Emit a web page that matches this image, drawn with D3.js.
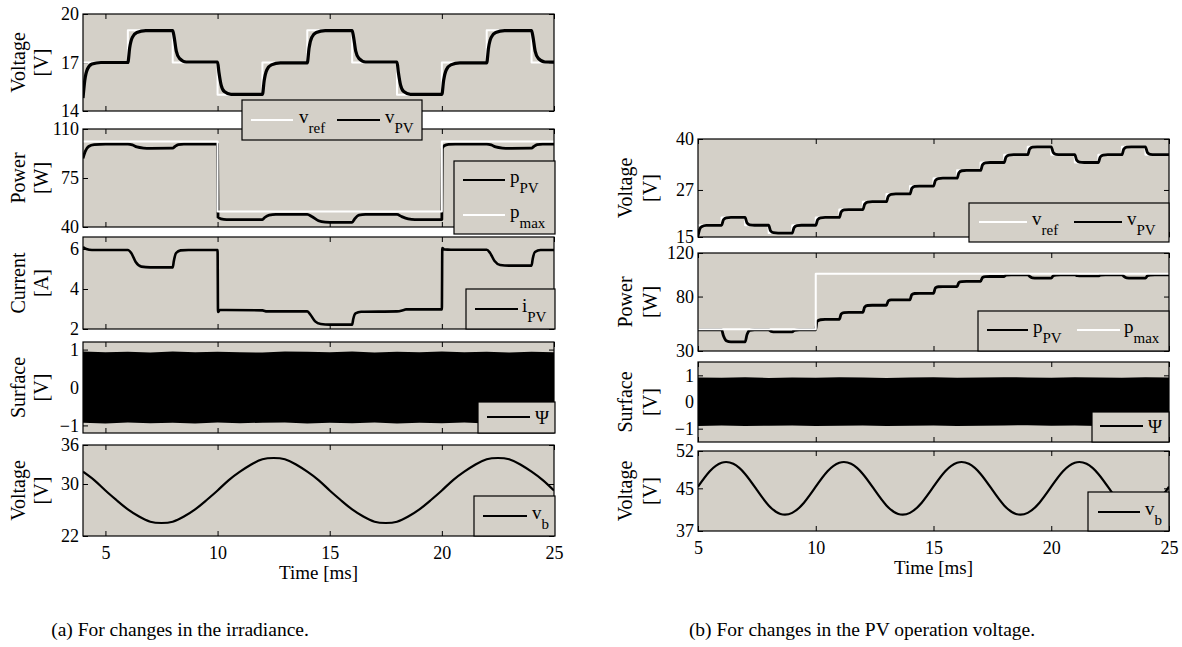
<!DOCTYPE html>
<html>
<head>
<meta charset="utf-8">
<script src="https://cdn.jsdelivr.net/npm/d3@7"></script>
<style>
  body { margin: 0; background: #fff; }
  svg text { font-family: "Liberation Serif", "Times New Roman", serif; fill: #000; }
</style>
</head>
<body>
<svg id="chart" width="1182" height="647"></svg>
<script>
// ---- data: (a) changes in the irradiance, time 4..25 ms ----
const timeTicks = [5, 10, 15, 20, 25];

const aVoltTicks = [14, 17, 20];
const aPowTicks = [40, 75, 110];
const aCurTicks = [2, 4, 6];
const aSurfTicks = [-1, 0, 1];
const aVbTicks = [22, 30, 36];

// v_ref steps (time, level)
const aRefTimes = [4, 6, 8, 10, 12, 14, 16, 18, 20, 22, 24, 25];
const aRefLevels = [17, 19, 17, 15, 17, 19, 17, 15, 17, 19, 17, 17];

const aVpv = [
  [4.0, 14.8], [4.08, 15.9], [4.2, 16.6], [4.4, 16.9], [4.8, 17.0],
  [6.0, 17.0], [6.08, 17.9], [6.2, 18.55], [6.4, 18.85], [6.8, 18.97],
  [8.0, 18.97], [8.06, 18.6], [8.16, 17.7], [8.3, 17.25], [8.6, 17.03],
  [10.0, 17.03], [10.06, 16.4], [10.16, 15.6], [10.3, 15.2], [10.6, 15.03],
  [12.0, 15.03], [12.08, 15.9], [12.2, 16.55], [12.4, 16.85], [12.8, 16.98],
  [14.0, 16.98], [14.08, 17.9], [14.2, 18.55], [14.4, 18.85], [14.8, 18.97],
  [16.0, 18.97], [16.06, 18.6], [16.16, 17.7], [16.3, 17.25], [16.6, 17.03],
  [18.0, 17.03], [18.06, 16.4], [18.16, 15.6], [18.3, 15.2], [18.6, 15.03],
  [20.0, 15.03], [20.08, 15.9], [20.2, 16.55], [20.4, 16.85], [20.8, 16.98],
  [22.0, 16.98], [22.08, 17.9], [22.2, 18.55], [22.4, 18.85], [22.8, 18.97],
  [24.0, 18.97], [24.06, 18.6], [24.16, 17.7], [24.3, 17.25], [24.6, 17.03],
  [25.0, 17.02]
];

const aPmaxTimes = [4, 10, 20, 25];
const aPmaxLevels = [101, 51, 101, 101];

const aPpv = [
  [4.0, 89], [4.1, 94], [4.25, 97.5], [4.5, 98.8], [5.0, 99.2],
  [6.0, 99.2], [6.2, 98.6], [6.4, 97.2], [6.7, 96.4], [7.0, 96.2],
  [8.0, 96.3], [8.1, 97.5], [8.25, 98.8], [8.5, 99.2],
  [10.0, 99.2], [10.02, 47], [10.15, 45.8], [10.4, 45.3],
  [12.0, 45.3], [12.1, 46.8], [12.3, 48.5], [12.6, 49],
  [14.0, 49], [14.2, 47.5], [14.5, 44.5], [14.8, 43.5], [15.2, 43.3],
  [16.0, 43.3], [16.1, 45.5], [16.3, 48.5], [16.6, 49],
  [18.0, 49], [18.2, 47.5], [18.5, 45.8], [18.8, 45.3],
  [20.0, 45.3], [20.02, 96], [20.1, 98], [20.3, 99], [20.6, 99.2],
  [22.0, 99.2], [22.2, 98.6], [22.4, 97.2], [22.7, 96.4], [23.0, 96.2],
  [24.0, 96.3], [24.1, 97.5], [24.25, 98.8], [24.5, 99.2], [25.0, 99.2]
];

const aIpv = [
  [4.0, 6.1], [4.15, 6.0], [4.4, 5.95], [6.0, 5.95], [6.15, 5.8], [6.35, 5.35],
  [6.6, 5.12], [7.0, 5.08], [8.0, 5.08], [8.05, 5.4], [8.15, 5.8], [8.35, 5.93],
  [8.7, 5.95], [10.0, 5.95], [10.02, 2.85], [10.1, 2.95], [10.4, 2.95],
  [12.0, 2.93], [12.2, 2.88], [14.0, 2.88], [14.15, 2.7], [14.35, 2.38],
  [14.6, 2.25], [15.0, 2.22], [16.0, 2.22], [16.05, 2.5], [16.15, 2.78],
  [16.4, 2.86], [18.0, 2.88], [18.3, 2.95], [18.4, 2.98], [20.0, 2.98],
  [20.02, 6.05], [20.1, 5.98], [20.4, 5.96], [22.0, 5.96], [22.15, 5.8],
  [22.35, 5.4], [22.6, 5.2], [23.0, 5.17], [24.0, 5.17], [24.05, 5.5],
  [24.15, 5.85], [24.4, 5.95], [25.0, 5.95]
];

// switching surface envelope, one value per ms from 4 to 25
const aSurfHi = [0.95, 0.93, 0.94, 0.92, 0.95, 0.93, 0.94, 0.93, 0.92, 0.95, 0.94,
                 0.93, 0.95, 0.92, 0.94, 0.93, 0.95, 0.93, 0.94, 0.92, 0.94, 0.93];
const aSurfLo = [-0.93, -0.95, -0.92, -0.94, -0.93, -0.95, -0.92, -0.94, -0.93, -0.92, -0.95,
                 -0.93, -0.94, -0.92, -0.95, -0.93, -0.94, -0.92, -0.95, -0.93, -0.94, -0.92];

// battery voltage, every 0.5 ms from 4 to 25
const aVb = [31.9, 30.6, 29.0, 27.5, 26.1, 25.0, 24.2, 24.0, 24.2, 25.0, 26.1,
             27.5, 29.0, 30.6, 31.9, 33.0, 33.8, 34.0, 33.8, 33.0, 31.9, 30.6,
             29.0, 27.5, 26.1, 25.0, 24.2, 24.0, 24.2, 25.0, 26.1, 27.5, 29.0,
             30.6, 31.9, 33.0, 33.8, 34.0, 33.8, 33.0, 31.9, 30.6, 29.0];

// ---- data: (b) changes in the PV operation voltage, time 5..25 ms ----
const bVoltTicks = [15, 27, 40];
const bPowTicks = [30, 80, 120];
const bSurfTicks = [-1, 0, 1];
const bVbTicks = [37, 45, 52];

const bRefTimes = [5, 6, 7, 8, 9, 10, 11, 12, 13, 14, 15, 16, 17, 18, 19, 20, 21, 22, 23, 24, 25];
const bRefLevels = [18, 20, 18, 16, 18, 20, 22, 24, 26, 28, 30, 32, 34, 36, 38, 36, 34, 36, 38, 36, 36];

const bVpv = [
  [5.0, 15.2], [5.06, 16.8], [5.15, 17.6], [5.35, 17.95],
  [6, 18], [6.08, 19.4], [6.2, 19.9], [6.4, 20],
  [7, 20], [7.08, 18.6], [7.2, 18.1], [7.4, 18],
  [8, 18], [8.08, 16.6], [8.2, 16.1], [8.4, 16],
  [9, 16], [9.08, 17.4], [9.2, 17.9], [9.4, 18],
  [10, 18], [10.08, 19.4], [10.2, 19.9], [10.4, 20],
  [11, 20], [11.08, 21.4], [11.2, 21.9], [11.4, 22],
  [12, 22], [12.08, 23.4], [12.2, 23.9], [12.4, 24],
  [13, 24], [13.08, 25.4], [13.2, 25.9], [13.4, 26],
  [14, 26], [14.08, 27.4], [14.2, 27.9], [14.4, 28],
  [15, 28], [15.08, 29.4], [15.2, 29.9], [15.4, 30],
  [16, 30], [16.08, 31.4], [16.2, 31.9], [16.4, 32],
  [17, 32], [17.08, 33.4], [17.2, 33.9], [17.4, 34],
  [18, 34], [18.08, 35.4], [18.2, 35.9], [18.4, 36],
  [19, 36], [19.08, 37.4], [19.2, 37.9], [19.4, 38],
  [20, 38], [20.08, 36.6], [20.2, 36.1], [20.4, 36],
  [21, 36], [21.08, 34.6], [21.2, 34.1], [21.4, 34],
  [22, 34], [22.08, 35.4], [22.2, 35.9], [22.4, 36],
  [23, 36], [23.08, 37.4], [23.2, 37.9], [23.4, 38],
  [24, 38], [24.08, 36.6], [24.2, 36.1], [24.4, 36],
  [25, 36]
];

const bPmaxTimes = [5, 10, 25];
const bPmaxLevels = [50, 101, 101];

const bPpv = [
  [5, 49.5], [6, 49.5], [6.08, 44], [6.2, 39.5], [6.4, 38.3], [7, 38.3],
  [7.08, 45], [7.2, 49], [7.4, 49.5], [8, 49.5], [8.1, 48], [8.3, 47.5],
  [9, 47.5], [9.1, 49], [9.3, 49.5], [10, 49.5], [10.05, 57], [10.2, 58.7],
  [10.4, 59], [11, 59], [11.08, 64], [11.2, 65.3], [11.4, 65.5], [12, 65.5],
  [12.08, 70.5], [12.2, 71.8], [12.4, 72], [13, 72], [13.08, 76], [13.2, 76.9],
  [13.4, 77], [14, 77], [14.08, 81.8], [14.2, 82.8], [14.4, 83], [15, 83],
  [15.08, 88], [15.2, 89], [15.4, 89.2], [16, 89.2], [16.08, 93], [16.2, 93.8],
  [16.4, 94], [17, 94], [17.08, 97.5], [17.2, 98.3], [17.4, 98.4], [18, 98.4],
  [18.08, 99.6], [18.3, 100], [19, 100], [19.08, 98.5], [19.2, 97.2], [19.4, 97],
  [20, 97], [20.08, 99], [20.2, 99.8], [20.4, 100], [21, 100], [21.1, 99.2],
  [21.3, 99], [22, 99], [22.1, 99.8], [22.3, 100], [23, 100], [23.08, 98.5],
  [23.2, 97.2], [23.4, 97], [24, 97], [24.08, 99], [24.2, 99.8], [24.4, 100], [25, 100]
];

// one value per ms from 5 to 25
const bSurfHi = [0.92, 0.91, 0.93, 0.9, 0.92, 0.91, 0.93, 0.92, 0.9, 0.92, 0.93,
                 0.91, 0.92, 0.93, 0.92, 0.91, 0.93, 0.92, 0.91, 0.93, 0.92];
const bSurfLo = [-0.9, -0.88, -0.9, -0.89, -0.88, -0.9, -0.89, -0.88, -0.9, -0.89, -0.88,
                 -0.9, -0.89, -0.88, -0.87, -0.89, -0.88, -0.9, -0.89, -0.88, -0.89];

// every 0.5 ms from 5 to 25
const bVb = [45.3, 48.2, 49.8, 49.6, 47.7, 44.7, 41.8, 40.2, 40.4, 42.3,
             45.3, 48.2, 49.8, 49.6, 47.7, 44.7, 41.8, 40.2, 40.4, 42.3,
             45.3, 48.2, 49.8, 49.6, 47.7, 44.7, 41.8, 40.2, 40.4, 42.3,
             45.3, 48.2, 49.8, 49.6, 47.7, 44.7, 41.8, 40.2, 40.4, 42.3, 45.3];

// ---- drawing ----
const BG = "#d4d0c8";
const FONT = '"Liberation Serif", "Times New Roman", serif';
const svg = d3.select("#chart");
const fmt = d => d < 0 ? "\u2212" + Math.abs(d) : String(d);
let clipId = 0;

function stepData(times, levels) {
  return times.map((t, i) => [t, levels[i]]);
}
function gridData(t0, dt, values) {
  return values.map((v, i) => [t0 + i * dt, v]);
}

function panel(x, p) {
  const y = d3.scaleLinear().domain(p.domain).range([p.bottom, p.top]);
  const [x0, x1] = x.range();
  const g = svg.append("g");
  g.append("rect")
    .attr("x", x0).attr("y", p.top)
    .attr("width", x1 - x0).attr("height", p.bottom - p.top)
    .attr("fill", BG);

  // inward ticks on all four sides
  const left = g.append("g").attr("transform", "translate(" + x0 + ",0)")
    .call(d3.axisLeft(y).tickValues(p.ticks).tickSize(-5).tickPadding(4).tickFormat(fmt));
  const right = g.append("g").attr("transform", "translate(" + x1 + ",0)")
    .call(d3.axisRight(y).tickValues(p.ticks).tickSize(-5).tickFormat(""));
  const top = g.append("g").attr("transform", "translate(0," + p.top + ")")
    .call(d3.axisTop(x).tickValues(timeTicks).tickSize(-5).tickFormat(""));
  const bottom = g.append("g").attr("transform", "translate(0," + p.bottom + ")")
    .call(d3.axisBottom(x).tickValues(timeTicks).tickSize(-5).tickPadding(10)
      .tickFormat(p.xLabels ? d => d : ""));
  [left, right, top, bottom].forEach(a => {
    a.attr("font-family", FONT).attr("font-size", 18);
    a.select(".domain").remove();
    a.selectAll("line").attr("stroke", "#000");
  });

  // clip for data
  const id = "clip" + (clipId++);
  g.append("clipPath").attr("id", id).append("rect")
    .attr("x", x0).attr("y", p.top).attr("width", x1 - x0).attr("height", p.bottom - p.top);
  const data = g.append("g").attr("clip-path", "url(#" + id + ")");

  p.series.forEach(s => {
    if (s.area) {
      data.append("path")
        .datum(s.area)
        .attr("fill", "#000")
        .attr("d", d3.area().x(d => x(d[0])).y0(d => y(d[1])).y1(d => y(d[2])));
    } else {
      data.append("path")
        .datum(s.data)
        .attr("fill", "none")
        .attr("stroke", s.color)
        .attr("stroke-width", s.width)
        .attr("stroke-linejoin", "round")
        .attr("d", d3.line().x(d => x(d[0])).y(d => y(d[1])).curve(s.curve || d3.curveLinear));
    }
  });

  g.append("rect")
    .attr("x", x0).attr("y", p.top)
    .attr("width", x1 - x0).attr("height", p.bottom - p.top)
    .attr("fill", "none").attr("stroke", "#000").attr("stroke-width", 1.2);

  // two-line y label
  const cy = (p.top + p.bottom) / 2;
  p.label.forEach((txt, i) => {
    g.append("text")
      .attr("transform", "translate(" + p.labelX[i] + "," + cy + ") rotate(-90)")
      .attr("text-anchor", "middle")
      .style("font-size", "20px")
      .text(txt);
  });
  return y;
}

function legend(box, entries) {
  const g = svg.append("g");
  g.append("rect")
    .attr("x", box[0]).attr("y", box[1])
    .attr("width", box[2] - box[0]).attr("height", box[3] - box[1])
    .attr("fill", BG).attr("stroke", "#000").attr("stroke-width", 1.2);
  entries.forEach(e => {
    g.append("line")
      .attr("x1", e.x1).attr("x2", e.x2).attr("y1", e.y).attr("y2", e.y)
      .attr("stroke", e.color).attr("stroke-width", 2);
    const t = g.append("text")
      .attr("x", e.tx).attr("y", e.y + (e.sub ? 3 : 7))
      .style("font-size", "19px")
      .text(e.main);
    if (e.sub) {
      t.append("tspan").attr("dy", 9.5).style("font-size", "15px").text(e.sub);
    }
  });
}

// ---- (a) ----
const xA = d3.scaleLinear().domain([4, 25]).range([83, 554]);
const labA = [25, 48];

panel(xA, { top: 14, bottom: 111, domain: [14, 20], ticks: aVoltTicks, label: ["Voltage", "[V]"], labelX: labA,
  series: [
    { data: stepData(aRefTimes, aRefLevels), color: "#fff", width: 2, curve: d3.curveStepAfter },
    { data: aVpv, color: "#000", width: 3.2, curve: d3.curveMonotoneX }
  ] });
panel(xA, { top: 129, bottom: 227, domain: [40, 110], ticks: aPowTicks, label: ["Power", "[W]"], labelX: labA,
  series: [
    { data: aPpv, color: "#000", width: 2.8, curve: d3.curveMonotoneX },
    { data: stepData(aPmaxTimes, aPmaxLevels), color: "#fff", width: 2, curve: d3.curveStepAfter }
  ] });
panel(xA, { top: 237, bottom: 329, domain: [2, 6.6], ticks: aCurTicks, label: ["Current", "[A]"], labelX: labA,
  series: [
    { data: aIpv, color: "#000", width: 2.6, curve: d3.curveMonotoneX }
  ] });
panel(xA, { top: 342, bottom: 433, domain: [-1.2, 1.2], ticks: aSurfTicks, label: ["Surface", "[V]"], labelX: labA,
  series: [
    { area: aSurfHi.map((h, i) => [4 + i, aSurfLo[i], h]) }
  ] });
panel(xA, { top: 445, bottom: 536, domain: [22, 36], ticks: aVbTicks, label: ["Voltage", "[V]"], labelX: labA,
  xLabels: true,
  series: [
    { data: gridData(4, 0.5, aVb), color: "#000", width: 2.2, curve: d3.curveNatural }
  ] });

svg.append("text").attr("x", 318.5).attr("y", 578.5).attr("text-anchor", "middle")
  .style("font-size", "19px").text("Time [ms]");

// ---- (b) ----
const xB = d3.scaleLinear().domain([5, 25]).range([698, 1169]);
const labB = [632, 657];

panel(xB, { top: 139, bottom: 237, domain: [15, 40], ticks: bVoltTicks, label: ["Voltage", "[V]"], labelX: labB,
  series: [
    { data: stepData(bRefTimes, bRefLevels), color: "#fff", width: 2, curve: d3.curveStepAfter },
    { data: bVpv, color: "#000", width: 2.8, curve: d3.curveMonotoneX }
  ] });
panel(xB, { top: 253, bottom: 351, domain: [30, 120], ticks: bPowTicks, label: ["Power", "[W]"], labelX: labB,
  series: [
    { data: bPpv, color: "#000", width: 2.8, curve: d3.curveMonotoneX },
    { data: stepData(bPmaxTimes, bPmaxLevels), color: "#fff", width: 2, curve: d3.curveStepAfter }
  ] });
panel(xB, { top: 362, bottom: 442, domain: [-1.5, 1.5], ticks: bSurfTicks, label: ["Surface", "[V]"], labelX: labB,
  series: [
    { area: bSurfHi.map((h, i) => [5 + i, bSurfLo[i], h]) }
  ] });
panel(xB, { top: 451, bottom: 531, domain: [37, 52], ticks: bVbTicks, label: ["Voltage", "[V]"], labelX: labB,
  xLabels: true,
  series: [
    { data: gridData(5, 0.5, bVb), color: "#000", width: 2.2, curve: d3.curveNatural }
  ] });

svg.append("text").attr("x", 933.5).attr("y", 574).attr("text-anchor", "middle")
  .style("font-size", "19px").text("Time [ms]");

// ---- legends (drawn last, they overlap neighbouring axes) ----
legend([242, 100, 422, 140], [
  { x1: 251, x2: 293, y: 120, color: "#fff", tx: 299, main: "v", sub: "ref" },
  { x1: 337, x2: 380, y: 120, color: "#000", tx: 385, main: "v", sub: "PV" }
]);
legend([454, 161, 555, 234], [
  { x1: 463, x2: 505, y: 180, color: "#000", tx: 510, main: "p", sub: "PV" },
  { x1: 463, x2: 505, y: 215, color: "#fff", tx: 510, main: "p", sub: "max" }
]);
legend([466, 289, 555, 329], [
  { x1: 475, x2: 518, y: 309, color: "#000", tx: 522, main: "i", sub: "PV" }
]);
legend([478, 402, 555, 433], [
  { x1: 487, x2: 530, y: 417, color: "#000", tx: 535, main: "\u03A8" }
]);
legend([474, 496, 555, 536], [
  { x1: 483, x2: 527, y: 516, color: "#000", tx: 532, main: "v", sub: "b" }
]);

legend([969, 203, 1169, 242], [
  { x1: 979, x2: 1027, y: 222, color: "#fff", tx: 1032, main: "v", sub: "ref" },
  { x1: 1074, x2: 1122, y: 222, color: "#000", tx: 1127, main: "v", sub: "PV" }
]);
legend([978, 311, 1169, 351], [
  { x1: 987, x2: 1028, y: 330, color: "#000", tx: 1033, main: "p", sub: "PV" },
  { x1: 1077, x2: 1120, y: 330, color: "#fff", tx: 1124, main: "p", sub: "max" }
]);
legend([1092, 412, 1169, 442], [
  { x1: 1100, x2: 1143, y: 426, color: "#000", tx: 1148, main: "\u03A8" }
]);
legend([1088, 492, 1169, 531], [
  { x1: 1098, x2: 1140, y: 512, color: "#000", tx: 1145, main: "v", sub: "b" }
]);

// ---- captions ----
svg.append("text").attr("x", 180).attr("y", 636).attr("text-anchor", "middle")
  .style("font-size", "19.5px").text("(a) For changes in the irradiance.");
svg.append("text").attr("x", 862).attr("y", 636).attr("text-anchor", "middle")
  .style("font-size", "19.5px").text("(b) For changes in the PV operation voltage.");
</script>
</body>
</html>
